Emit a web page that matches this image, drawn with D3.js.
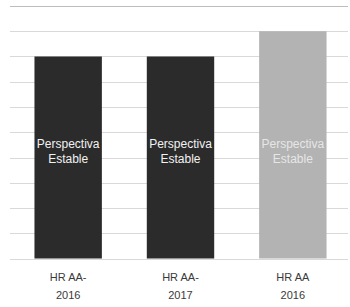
<!DOCTYPE html>
<html>
<head>
<meta charset="utf-8">
<script src="https://cdn.jsdelivr.net/npm/d3@7.9.0/dist/d3.min.js"></script>
<style>
  body { margin: 0; background: #fff; }
  svg { display: block; font-family: "Liberation Sans", Arial, sans-serif; }
</style>
</head>
<body>
<div id="chart"></div>
<script>
// data
const ratings = ['HR AA-', 'HR AA-', 'HR AA'];
const years = ['2016', '2017', '2016'];
const values = [8, 8, 9];
const barLabels = ['Perspectiva', 'Estable'];
const barColors = ['#2b2b2b', '#2b2b2b', '#b3b3b3'];
const yTicks = d3.range(0, 11);

const width = 350;
const height = 307;

const svg = d3.select('#chart')
    .append('svg')
    .attr('width', width)
    .attr('height', height);

const xScale = d3.scaleBand()
    .domain(d3.range(values.length))
    .range([12, 349])
    .paddingInner(0.4)
    .paddingOuter(0.2);

const yScale = d3.scaleLinear()
    .domain([0, 10])
    .range([258.5, 6]);

// gridlines
svg.append('g')
    .attr('class', 'gridlines')
    .selectAll('line')
    .data(yTicks)
    .enter()
    .append('line')
    .attr('x1', 10)
    .attr('x2', 348)
    .attr('y1', d => Math.round(yScale(d)) + 0.5)
    .attr('y2', d => Math.round(yScale(d)) + 0.5)
    .attr('stroke', d => d === 10 ? '#bdbdbd' : '#d9d9d9')
    .attr('stroke-width', 1);

// bars
svg.append('g')
    .selectAll('rect')
    .data(values)
    .enter()
    .append('rect')
    .attr('x', (d, i) => xScale(i))
    .attr('y', d => yScale(d))
    .attr('width', xScale.bandwidth())
    .attr('height', d => yScale(0) - yScale(d))
    .attr('fill', (d, i) => barColors[i]);

// text inside bars
const inner = svg.append('g')
    .selectAll('text')
    .data(values)
    .enter()
    .append('text')
    .attr('x', (d, i) => xScale(i) + xScale.bandwidth() / 2)
    .attr('y', 148)
    .attr('text-anchor', 'middle')
    .attr('font-size', '12px')
    .attr('fill', (d, i) => i === 2 ? '#e6e6e6' : '#f2f2f2');

inner.append('tspan').text(barLabels[0]);
inner.append('tspan')
    .attr('x', (d, i) => xScale(i) + xScale.bandwidth() / 2)
    .attr('dy', 15)
    .text(barLabels[1]);

// x axis labels
const xLabels = svg.append('g')
    .selectAll('text')
    .data(ratings)
    .enter()
    .append('text')
    .attr('x', (d, i) => xScale(i) + xScale.bandwidth() / 2)
    .attr('y', 281)
    .attr('text-anchor', 'middle')
    .attr('font-size', '11px')
    .attr('fill', '#3a3a3a');

xLabels.append('tspan').text(d => d);
xLabels.append('tspan')
    .attr('x', (d, i) => xScale(i) + xScale.bandwidth() / 2)
    .attr('dy', 18)
    .text((d, i) => years[i]);
</script>
</body>
</html>
